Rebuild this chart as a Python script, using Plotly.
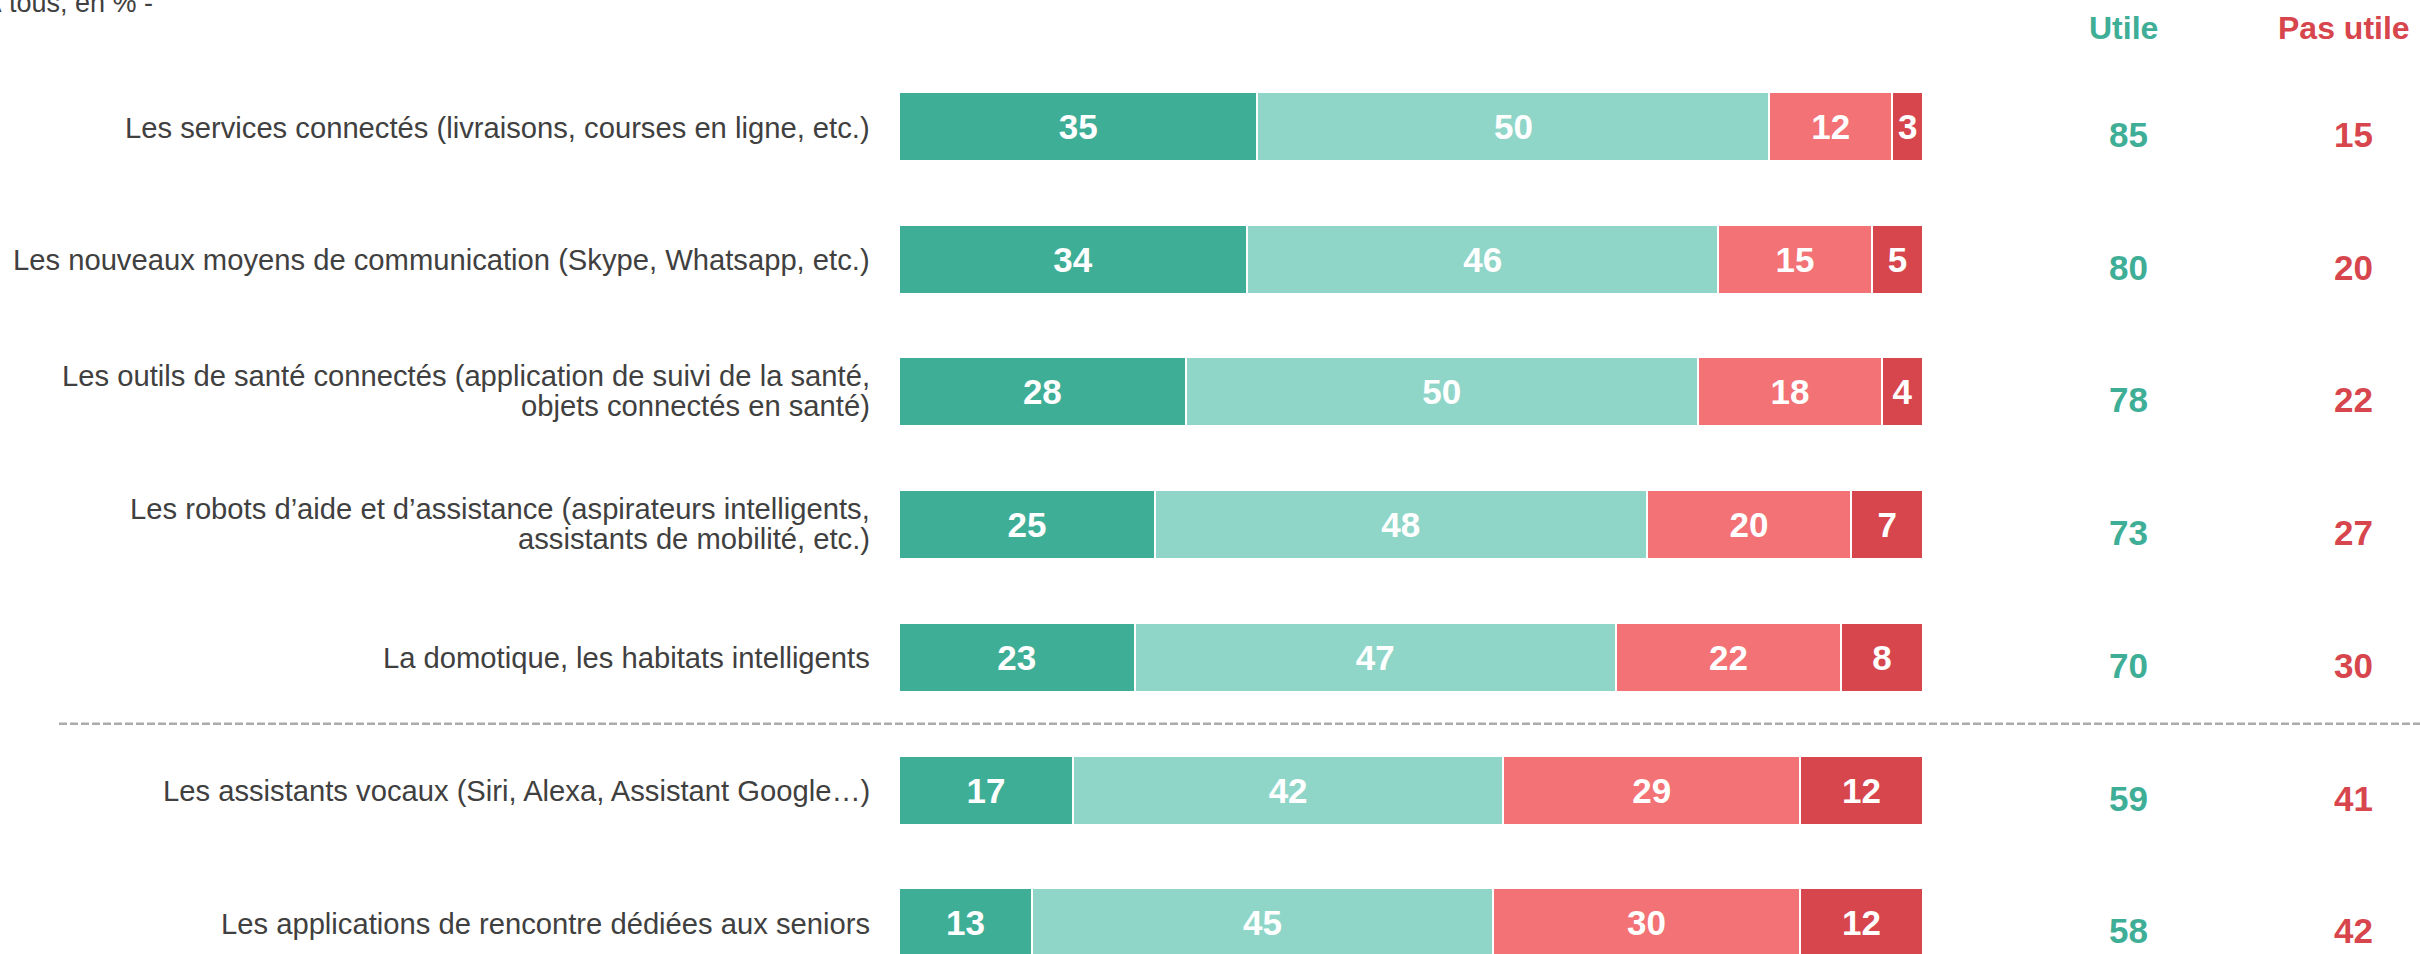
import plotly.graph_objects as go

W, H = 2420, 954

categories = [
    "Les services connectés (livraisons, courses en ligne, etc.)",
    "Les nouveaux moyens de communication (Skype, Whatsapp, etc.)",
    "Les outils de santé connectés (application de suivi de la santé,<br>objets connectés en santé)",
    "Les robots d’aide et d’assistance (aspirateurs intelligents,<br>assistants de mobilité, etc.)",
    "La domotique, les habitats intelligents",
    "Les assistants vocaux (Siri, Alexa, Assistant Google…)",
    "Les applications de rencontre dédiées aux seniors",
]
tres_utile = [35, 34, 28, 25, 23, 17, 13]
plutot_utile = [50, 46, 50, 48, 47, 42, 45]
plutot_pas_utile = [12, 15, 18, 20, 22, 29, 30]
pas_du_tout_utile = [3, 5, 4, 7, 8, 12, 12]
utile_total = [85, 80, 78, 73, 70, 59, 58]
pas_utile_total = [15, 20, 22, 27, 30, 41, 42]
series_names = ["Très utile", "Plutôt utile", "Plutôt pas utile", "Pas du tout utile"]
series_values = [tres_utile, plutot_utile, plutot_pas_utile, pas_du_tout_utile]
colors = ["#3FAE96", "#8FD6C9", "#F37275", "#D7454D"]
GREEN = "#3FAE96"
RED = "#D7454D"
TEXT = "#404040"
FONT = "Liberation Sans, Arial, sans-serif"

ypos = list(range(len(categories)))

fig = go.Figure()
for name, vals, col in zip(series_names, series_values, colors):
    fig.add_trace(go.Bar(
        y=ypos, x=vals, name=name, orientation="h",
        marker=dict(color=col, line=dict(color="white", width=2)),
        width=0.52,
        text=[str(v) for v in vals], textposition="inside",
        insidetextanchor="middle", textangle=0,
        textfont=dict(family=FONT, size=35, color="white", weight="bold"),
        cliponaxis=False,
    ))

annotations = []
# category labels
for i, cat in enumerate(categories):
    lines = cat.split("<br>")
    if len(lines) == 1:
        shifts = [-1]
    else:
        shifts = [16, -14]
    for ln, sh in zip(lines, shifts):
        annotations.append(dict(
            xref="paper", yref="y", x=872 / W, y=i, xanchor="right", yanchor="middle",
            text=ln, showarrow=False, yshift=sh,
            font=dict(family=FONT, size=29.2, color=TEXT),
        ))
# totals
for i, (u, p) in enumerate(zip(utile_total, pas_utile_total)):
    annotations.append(dict(
        xref="paper", yref="y", x=2128 / W, y=i, xanchor="center", yanchor="middle",
        text=str(u), showarrow=False, yshift=-8,
        font=dict(family=FONT, size=35, color=GREEN, weight="bold"),
    ))
    annotations.append(dict(
        xref="paper", yref="y", x=2353 / W, y=i, xanchor="center", yanchor="middle",
        text=str(p), showarrow=False, yshift=-8,
        font=dict(family=FONT, size=35, color=RED, weight="bold"),
    ))
# headers
annotations.append(dict(
    xref="paper", yref="paper", x=2123 / W, y=1 - 28 / H, xanchor="center", yanchor="middle",
    text="Utile", showarrow=False,
    font=dict(family=FONT, size=32, color=GREEN, weight="bold"),
))
annotations.append(dict(
    xref="paper", yref="paper", x=2412 / W, y=1 - 28 / H, xanchor="right", yanchor="middle",
    text="Pas utile", showarrow=False,
    font=dict(family=FONT, size=32, color=RED, weight="bold"),
))
# subtitle (cut off at top-left, as in the reference)
annotations.append(dict(
    xref="paper", yref="paper", x=155 / W, y=1 - 3 / H, xanchor="right", yanchor="middle",
    text="- À tous, en % -", showarrow=False,
    font=dict(family=FONT, size=27, color=TEXT),
))

row_px = 132.7
first_px = 126.5
y_top = -first_px / row_px
y_bot = (H - first_px) / row_px

fig.update_layout(
    width=W, height=H,
    margin=dict(l=0, r=0, t=0, b=0),
    paper_bgcolor="white", plot_bgcolor="white",
    barmode="stack", showlegend=False,
    xaxis=dict(domain=[899 / W, 1923 / W], range=[0, 100], visible=False, fixedrange=True),
    yaxis=dict(range=[y_bot, y_top], visible=False, fixedrange=True),
    annotations=annotations,
    shapes=[dict(
        type="line", xref="paper", yref="y", x0=59 / W, x1=1, y0=4.5, y1=4.5,
        line=dict(color="#ABABAB", width=2.5, dash="8px,3px"),
    )],
)

fig.write_html(
    "out.html",
    config={"displayModeBar": False},
    post_script="document.body.style.margin='0';document.body.style.overflow='hidden';",
)
